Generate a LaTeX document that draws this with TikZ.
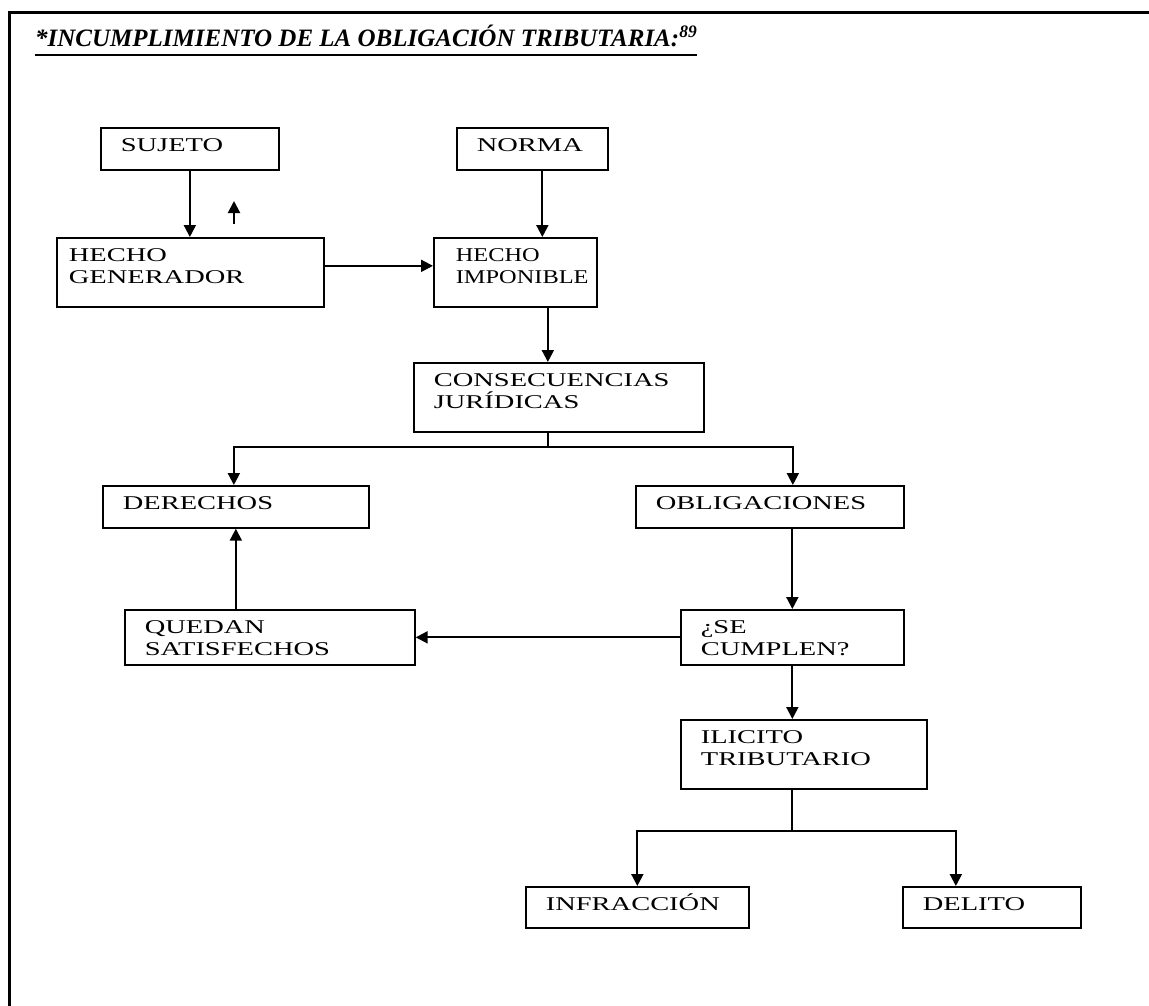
\documentclass[tikz,border=0pt]{standalone}
\usepackage{fontspec}
\setmainfont{Liberation Serif}
\newfontfamily\boxfont[FakeStretch=1.46]{Liberation Serif}
\newfontfamily\narrowfont[FakeStretch=1.25]{Liberation Serif}
\usepackage{tikz}
\usetikzlibrary{arrows.meta,positioning}

\begin{document}
\begin{tikzpicture}[
    x=1pt, y=-1pt,
    box/.style={rectangle, draw, line width=1.7pt, anchor=north west, inner xsep=20pt, inner ysep=0pt,
        align=left, text height=23.5pt, text depth=18.5pt, font=\boxfont\fontsize{19.5}{22}\selectfont},
    midbox/.style={box, text depth=31.5pt},
    tallbox/.style={box, text depth=45.5pt},
    arrow/.style={-{Triangle[length=12pt,width=12pt]}, line width=2pt},
    link/.style={line width=2pt},
    frame/.style={line width=3pt}
]
\useasboundingbox (0,0) rectangle (1149,1006);

% Frame and title
\coordinate (fbottom) at (9,1006);
\coordinate (fcorner) at (9,13);
\coordinate (fright) at (1149,13);
\draw[frame] (fbottom) -- (fcorner) -- (fright);
\node[anchor=base west, inner sep=0pt, font=\bfseries\itshape\fontsize{25}{28}\selectfont] (title) at (35,47)
    {*INCUMPLIMIENTO DE LA OBLIGACIÓN TRIBUTARIA:\textsuperscript{89}};
\draw[line width=2.5pt] ([yshift=-8pt]title.base west) -- ([yshift=-8pt]title.base east);

% Nodes
\node[box, text width=138pt] (sujeto) at (100,127) {SUJETO};
\node[box, text width=111pt] (norma) at (456,127) {NORMA};
\node[tallbox, inner xsep=12pt, text width=243pt] (generador) at (56,237) {HECHO\\GENERADOR};
\node[tallbox, inner xsep=22pt, text width=119pt, font=\narrowfont\fontsize{19.5}{22}\selectfont] (imponible) at (433,237) {HECHO\\IMPONIBLE};
\node[tallbox, text width=250pt] (consecuencias) at (413,362) {CONSECUENCIAS\\JURÍDICAS};
\node[box, text width=226pt] (derechos) at (102,485) {DERECHOS};
\node[box, text width=228pt] (obligaciones) at (635,485) {OBLIGACIONES};
\node[midbox, text width=250pt] (quedan) at (124,609) {QUEDAN\\SATISFECHOS};
\node[midbox, text width=183pt] (cumplen) at (680,609) {¿SE\\CUMPLEN?};
\node[tallbox, text width=206pt] (ilicito) at (680,719) {ILICITO\\TRIBUTARIO};
\node[box, text width=183pt, text depth=17.5pt] (infraccion) at (525,886) {INFRACCIÓN};
\node[box, text width=138pt, text depth=17.5pt] (delito) at (902,886) {DELITO};

% Helper points
\coordinate (uptail) at (234,224);
\coordinate (uphead) at (234,201);
\coordinate (split1) at ([xshift=-11pt, yshift=-14pt]consecuencias.south);
\coordinate (ilbase) at (cumplen.south |- ilicito.south);
\coordinate (split2) at ([yshift=-41pt]ilbase);

% Arrows
\draw[arrow] (sujeto.south) -- (sujeto.south |- generador.north);
\draw[arrow] (uptail) -- (uphead);
\draw[arrow] ([xshift=10pt]norma.south) -- ([xshift=10pt]norma.south |- imponible.north);
\draw[arrow] ([yshift=6.5pt]generador.east) -- ([yshift=6.5pt]generador.east -| imponible.west);
\draw[arrow] ([xshift=32.5pt]imponible.south) -- ([xshift=32.5pt]imponible.south |- consecuencias.north);
\draw[link] ([xshift=-11pt]consecuencias.south) -- (split1);
\draw[arrow] (split1) -| ([xshift=-2pt]derechos.north);
\draw[arrow] (split1) -| ([xshift=23pt]obligaciones.north);
\draw[arrow] (cumplen.north |- obligaciones.south) -- (cumplen.north);
\draw[arrow] (cumplen.west) -- (quedan.east);
\draw[arrow] (derechos.south |- quedan.north) -- (derechos.south);
\draw[arrow] (cumplen.south) -- (cumplen.south |- ilicito.north);
\draw[link] (ilbase) -- (split2);
\draw[arrow] (split2) -| (infraccion.north);
\draw[arrow] (split2) -| ([xshift=-36pt]delito.north);

\end{tikzpicture}
\end{document}
